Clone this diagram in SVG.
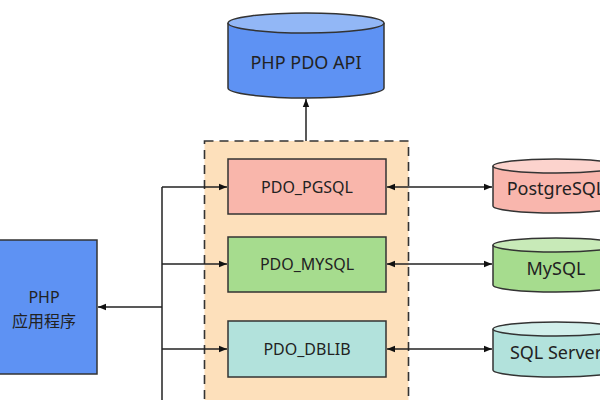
<svg xmlns="http://www.w3.org/2000/svg" width="600" height="400" viewBox="0 0 600 400">
<defs>
<style>
text{font-family:"Noto Sans","Noto Sans CJK SC","DejaVu Sans",sans-serif;fill:#222;text-anchor:middle;dominant-baseline:central}
.s{stroke:#333;stroke-width:1.5}
.c{stroke:#222;stroke-width:1.5;fill:none}
</style>
<marker id="a" viewBox="0 0 10 10" refX="10" refY="5" markerWidth="8" markerHeight="8" orient="auto-start-reverse" markerUnits="userSpaceOnUse">
<path d="M0,1 L10,5 L0,9 z" fill="#111"/>
</marker>
</defs>
<rect width="600" height="400" fill="#fff"/>
<g id="pdo-layer">
<rect x="204.5" y="141" width="204" height="270" fill="#fde0bb" stroke="#333" stroke-width="1.6" stroke-dasharray="9,6"/>
</g>
<g id="api">
<path d="M228,23 V88 A78,10 0 0 0 384,88 V23" fill="#5e92f3" class="s"/>
<ellipse cx="306" cy="23" rx="78" ry="10" fill="#92b7f6" class="s"/>
<text x="306" y="62" font-size="18">PHP PDO API</text>
</g>
<g id="php-app">
<rect x="-5" y="240" width="102" height="134" fill="#5e92f3" class="s"/>
<text x="44" y="297" font-size="16">PHP</text>
<text x="44" y="321" font-size="16">应用程序</text>
</g>
<g id="pgsql">
<rect x="228" y="159" width="158" height="55" fill="#f9b6ab" class="s"/>
<text x="307" y="187" font-size="16">PDO_PGSQL</text>
</g>
<g id="mysql">
<rect x="228" y="237" width="158" height="55" fill="#a6dc8e" class="s"/>
<text x="307" y="264" font-size="16">PDO_MYSQL</text>
</g>
<g id="dblib">
<rect x="228" y="321" width="158" height="56" fill="#b2e2dc" class="s"/>
<text x="307" y="349" font-size="16">PDO_DBLIB</text>
</g>
<g id="db-postgres">
<path d="M493,166 V206 A63,7 0 0 0 619,206 V166" fill="#f9b6ad" class="s"/>
<ellipse cx="556" cy="166" rx="63" ry="7" fill="#fcd3cd" class="s"/>
<text x="556" y="188" font-size="18">PostgreSQL</text>
</g>
<g id="db-mysql">
<path d="M493,245 V285 A63,7 0 0 0 619,285 V245" fill="#a6dc8e" class="s"/>
<ellipse cx="556" cy="245" rx="63" ry="7" fill="#c8eab8" class="s"/>
<text x="556" y="268" font-size="18">MySQL</text>
</g>
<g id="db-sqlserver">
<path d="M493,329 V370 A63,7 0 0 0 619,370 V329" fill="#b2e2dc" class="s"/>
<ellipse cx="556" cy="329" rx="63" ry="7" fill="#d2efeb" class="s"/>
<text x="556" y="352" font-size="18">SQL Server</text>
</g>
<g id="connectors">
<path d="M306,141 V99" class="c" marker-end="url(#a)"/>
<path d="M162,187 V400" class="c"/>
<path d="M162,307 H98" class="c" marker-end="url(#a)"/>
<path d="M162,187 H227" class="c" marker-end="url(#a)"/>
<path d="M162,264 H227" class="c" marker-end="url(#a)"/>
<path d="M162,349 H227" class="c" marker-end="url(#a)"/>
<path d="M387,187 H492" class="c" marker-start="url(#a)" marker-end="url(#a)"/>
<path d="M387,264 H492" class="c" marker-start="url(#a)" marker-end="url(#a)"/>
<path d="M387,349 H492" class="c" marker-start="url(#a)" marker-end="url(#a)"/>
</g>
</svg>
